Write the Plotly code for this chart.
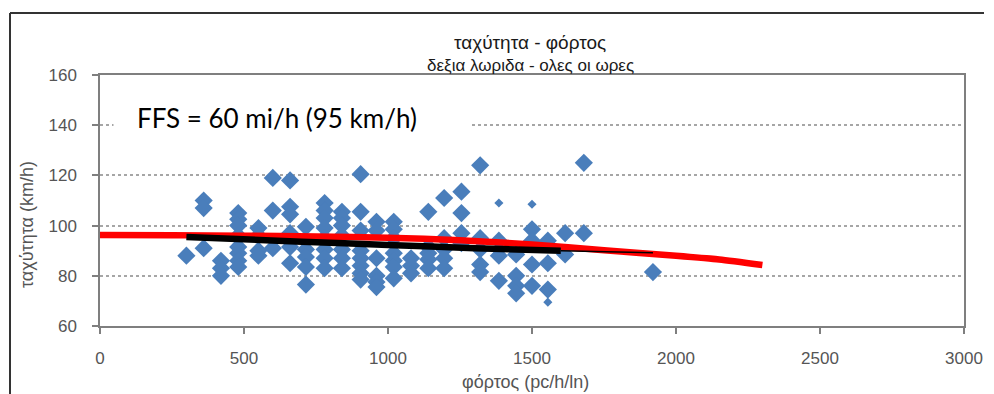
import plotly.graph_objects as go

# ---- data ----
flow_pts = (
    [300] +
    [360] * 3 +
    [420] * 3 +
    [480] * 8 +
    [550] * 4 +
    [600] * 3 +
    [660] * 6 +
    [715] * 5 +
    [780] * 8 +
    [840] * 7 +
    [905] * 8 +
    [960] * 6 +
    [1020] * 7 +
    [1080] * 3 +
    [1140] * 5 +
    [1195] * 5 +
    [1255] * 4 +
    [1320] * 5 +
    [1385] * 3 +
    [1445] * 4 +
    [1500] * 4 +
    [1555] * 3 +
    [1615] * 2 +
    [1680] * 2 +
    [1920]
)
speed_pts = (
    [88] +
    [110, 107, 91] +
    [86, 83, 80] +
    [105, 102.5, 100, 96, 91.5, 89, 86, 83.5] +
    [99, 96, 90, 88] +
    [119, 106, 91] +
    [118, 107.5, 104.5, 97, 91.5, 85] +
    [99.5, 90.5, 87.5, 83.5, 76.5] +
    [109, 106, 103, 99, 95, 90.5, 87, 83] +
    [105.5, 103, 100, 96, 90.5, 87, 83] +
    [120.5, 105.5, 98, 90, 87, 84, 81, 78.5] +
    [101.5, 98, 87, 80, 77.5, 75.5] +
    [101.5, 98.5, 95, 89, 86, 83.5, 79] +
    [87, 84, 81] +
    [105.5, 91.5, 89, 86.5, 83] +
    [111, 95, 90.5, 87, 83] +
    [113.5, 105, 97, 93] +
    [124, 95, 90.5, 84.5, 81.5] +
    [94, 88, 78] +
    [88.5, 80, 76, 73] +
    [98.5, 94, 84.5, 76] +
    [94, 85, 74.5] +
    [97, 88.5] +
    [125, 97] +
    [81.5]
)
small_flow = [1385, 1500, 1555]
small_speed = [109, 108.5, 69.5]

hcm_flow = [0, 250, 500, 750, 1000, 1250, 1500, 1750, 2000, 2150, 2300]
hcm_speed = [96.3, 96.2, 96.0, 95.7, 95.2, 94.2, 92.5, 90.2, 88.0, 86.5, 84.3]

fit_flow_thick = [300, 700, 1000, 1300, 1600]
fit_speed_thick = [95.5, 93.6, 92.3, 91.0, 90.0]
fit_flow_thin = [1600, 1750, 1920]
fit_speed_thin = [90.0, 89.6, 89.2]

x_ticks = [0, 500, 1000, 1500, 2000, 2500, 3000]
y_ticks = [60, 80, 100, 120, 140, 160]

title_text = "ταχύτητα - φόρτος"
subtitle_text = "δεξια λωριδα - ολες οι ωρες"
x_title = "φόρτος (pc/h/ln)"
y_title = "ταχύτητα (km/h)"
note_text = "FFS = 60 mi/h (95 km/h)"

NARROW = "Liberation Sans, Arial, sans-serif"
BLUE = "#4a7ebb"

W, H = 994, 394
L, R, T, B = 100, 30, 75, 68
PW, PH = W - L - R, H - T - B


def px(xp):
    return (xp - L) / PW


def py(yp):
    return (H - B - yp) / PH


fig = go.Figure()
fig.add_trace(go.Scatter(
    x=flow_pts, y=speed_pts, mode="markers",
    marker=dict(symbol="diamond", size=14, color=BLUE, line=dict(width=0)),
    showlegend=False, hoverinfo="x+y"))
fig.add_trace(go.Scatter(
    x=small_flow, y=small_speed, mode="markers",
    marker=dict(symbol="diamond", size=7, color=BLUE, line=dict(width=0)),
    showlegend=False))
fig.add_trace(go.Scatter(
    x=hcm_flow, y=hcm_speed, mode="lines",
    line=dict(color="#ff0000", width=6.5, shape="spline", smoothing=0.6),
    showlegend=False))
fig.add_trace(go.Scatter(
    x=fit_flow_thick, y=fit_speed_thick, mode="lines",
    line=dict(color="#000000", width=6.5, shape="spline", smoothing=0.6),
    showlegend=False))
fig.add_trace(go.Scatter(
    x=fit_flow_thin, y=fit_speed_thin, mode="lines",
    line=dict(color="#000000", width=1.5),
    showlegend=False))

axis_common = dict(
    showline=True, linecolor="#7f7f7f", linewidth=1.5, mirror=True,
    ticks="outside", ticklen=6, tickcolor="#7f7f7f", tickwidth=1.5,
    tickfont=dict(family=NARROW, size=17, color="#555555"),
    zeroline=False,
)

fig.update_xaxes(range=[0, 3000], tickvals=x_ticks, showgrid=False,
                 ticklabelstandoff=10, **axis_common)
fig.update_yaxes(range=[60, 160], tickvals=y_ticks, showgrid=True,
                 gridcolor="#a6a6a6", griddash="dot", gridwidth=1.5,
                 ticklabelstandoff=12, **axis_common)

shapes = [
    # outer frame (top and left)
    dict(type="line", xref="paper", yref="paper",
         x0=px(10), x1=px(984), y0=py(13), y1=py(13),
         line=dict(color="#333333", width=2)),
    dict(type="line", xref="paper", yref="paper",
         x0=px(10), x1=px(10), y0=py(13), y1=py(400),
         line=dict(color="#333333", width=2)),
]

annotations = [
    # white patch behind the FFS note (covers the 140 gridline there)
    dict(text=" ", xref="paper", yref="paper", x=px(292), y=py(121),
         xanchor="center", yanchor="middle", width=354, height=40,
         bgcolor="white", showarrow=False),
    dict(text=title_text, xref="paper", yref="paper", x=px(530), y=py(43),
         xanchor="center", yanchor="middle", showarrow=False,
         font=dict(family=NARROW, size=19, color="#1a1a1a")),
    dict(text=subtitle_text, xref="paper", yref="paper", x=px(530), y=py(65),
         xanchor="center", yanchor="middle", showarrow=False,
         font=dict(family=NARROW, size=17, color="#1a1a1a")),
    dict(text=x_title, xref="paper", yref="paper", x=px(525), y=py(382),
         xanchor="center", yanchor="middle", showarrow=False,
         font=dict(family=NARROW, size=18, color="#555555")),
    dict(text=y_title, xref="paper", yref="paper", x=px(27), y=py(225),
         xanchor="center", yanchor="middle", textangle=-90, showarrow=False,
         font=dict(family=NARROW, size=18, color="#555555")),
    dict(text=note_text, xref="paper", yref="paper", x=px(277), y=py(118),
         xanchor="center", yanchor="middle", showarrow=False,
         font=dict(family="Lato, Open Sans, sans-serif", size=26, color="#000000")),
]

fig.update_layout(
    width=W, height=H,
    margin=dict(l=L, r=R, t=T, b=B, autoexpand=False),
    paper_bgcolor="white", plot_bgcolor="white",
    shapes=shapes, annotations=annotations,
    showlegend=False,
)

fig.write_html("out.html")
